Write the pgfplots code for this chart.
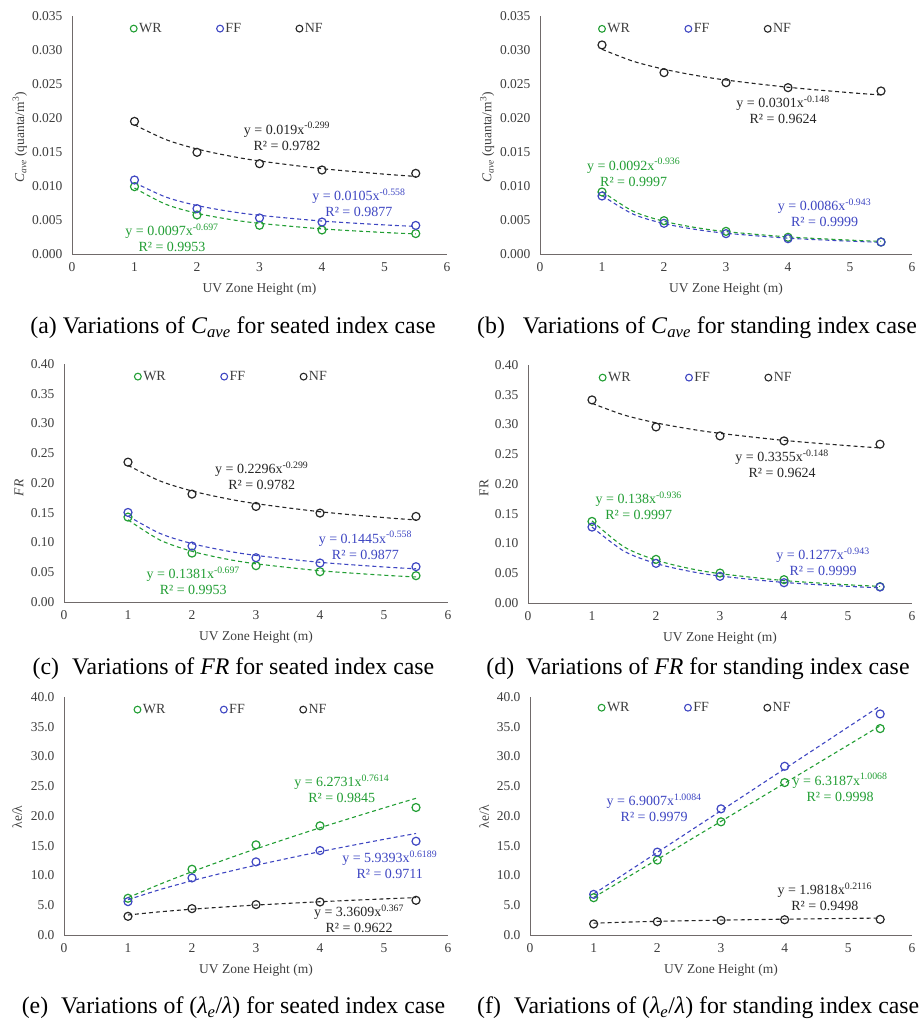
\documentclass[border=0pt]{standalone}
\usepackage{fontspec}
\setmainfont{Liberation Serif}
\usepackage{pgfplots}
\pgfplotsset{compat=1.18}
\definecolor{cwr}{RGB}{34,158,52}
\definecolor{cff}{RGB}{62,70,194}
\definecolor{cnf}{RGB}{38,38,38}
\definecolor{axgray}{RGB}{112,106,106}
\definecolor{txgray}{RGB}{62,62,62}
\newcommand{\tkf}{\fontsize{13.5}{15}\selectfont}
\newcommand{\eqf}{\fontsize{14}{16}\selectfont}
\newcommand{\capf}{\fontsize{23.8}{26}\selectfont}
\pgfplotsset{
  panel/.style={
    scale only axis, height=238pt,
    xmin=0, xmax=6, ymin=0,
    axis x line=bottom, axis y line=left,
    axis line style={-, draw=axgray, line width=0.9pt},
    major tick length=0pt, xtick={0,1,2,3,4,5,6},
    tick label style={font=\tkf, text=txgray},
    xticklabel style={yshift=-5pt}, yticklabel style={xshift=-6pt},
    scaled y ticks=false,
    /pgf/number format/assume math mode=true,
    xlabel={UV Zone Height (m)},
    xlabel style={at={(axis description cs:0.5,-0.15)}, anchor=center, font=\tkf, text=txgray},
    ylabel style={anchor=center, font=\tkf, text=txgray},
    clip=false,
    legend columns=3,
    legend style={draw=none, fill=none, anchor=west, inner sep=0pt, font=\fontsize{14}{16}\selectfont, text=txgray,
      /tikz/every even column/.append style={column sep=53pt}, nodes={inner sep=2pt}},
    legend image code/.code={\draw[#1, mark size=3.4pt, line width=1.1pt] plot coordinates {(0pt,0pt)};},
  },
  pt/.style={only marks, mark=o, mark size=4pt, line width=1.2pt},
  tr/.style={forget plot, smooth, line width=1.1pt, dash pattern=on 4pt off 3pt},
}
\begin{document}
\begin{tikzpicture}[x=1pt,y=1pt]
\useasboundingbox (0,0) rectangle (918,1024);

% (a)
\begin{axis}[panel, width=375pt, at={(72pt,770pt)}, anchor=south west,
  ymax=0.035, ytick={0,0.005,0.010,0.015,0.020,0.025,0.030,0.035},
  yticklabel style={/pgf/number format/.cd, fixed, fixed zerofill, precision=3},
  ylabel={\textit{C}\textsubscript{\textit{ave}} (quanta/m\textsuperscript{3})},
  ylabel style={at={(axis description cs:-0.139,0.49)}},
  legend style={at={(axis description cs:0.155,0.947)}}]
\addplot[cwr, pt] coordinates {(1,0.0099)(2,0.00574)(3,0.00422)(4,0.00353)(5.5,0.0030)};
\addlegendentry{WR}
\addplot[cff, pt] coordinates {(1,0.01088)(2,0.00667)(3,0.0053)(4,0.0047)(5.5,0.0042)};
\addlegendentry{FF}
\addplot[cnf, pt] coordinates {(1,0.0195)(2,0.01495)(3,0.01328)(4,0.01235)(5.5,0.01186)};
\addlegendentry{NF}
\addplot[cwr, tr] coordinates {(1,0.0097)(1.5,0.007312)(2,0.005984)(2.5,0.005122)(3,0.004511)(4,0.003691)(5,0.003159)(5.5,0.002956)};
\addplot[cff, tr] coordinates {(1,0.0105)(1.5,0.008374)(2,0.007132)(2.5,0.006297)(3,0.005688)(4,0.004844)(5,0.004277)(5.5,0.004056)};
\addplot[cnf, tr] coordinates {(1,0.019)(1.5,0.01683)(2,0.01544)(2.5,0.01445)(3,0.01368)(4,0.01255)(5,0.01174)(5.5,0.01141)};
\node[cnf, align=center, font=\eqf] at (axis cs:3.44,0.0173) {y = 0.019x\textsuperscript{-0.299}\\R² = 0.9782};
\node[cff, align=center, font=\eqf] at (axis cs:4.59,0.0075) {y = 0.0105x\textsuperscript{-0.558}\\R² = 0.9877};
\node[cwr, align=center, font=\eqf] at (axis cs:1.6,0.00235) {y = 0.0097x\textsuperscript{-0.697}\\R² = 0.9953};
\end{axis}

% (b)
\begin{axis}[panel, width=372pt, at={(540pt,770pt)}, anchor=south west,
  ymax=0.035, ytick={0,0.005,0.010,0.015,0.020,0.025,0.030,0.035},
  yticklabel style={/pgf/number format/.cd, fixed, fixed zerofill, precision=3},
  ylabel={\textit{C}\textsubscript{\textit{ave}} (quanta/m\textsuperscript{3})},
  ylabel style={at={(axis description cs:-0.142,0.49)}},
  legend style={at={(axis description cs:0.157,0.946)}}]
\addplot[cwr, pt] coordinates {(1,0.00912)(2,0.0049)(3,0.00333)(4,0.00245)(5.5,0.00176)};
\addlegendentry{WR}
\addplot[cff, pt] coordinates {(1,0.00853)(2,0.00451)(3,0.00299)(4,0.00225)(5.5,0.00176)};
\addlegendentry{FF}
\addplot[cnf, pt] coordinates {(1,0.03074)(2,0.02667)(3,0.0252)(4,0.02446)(5.5,0.02397)};
\addlegendentry{NF}
\addplot[cff, tr] coordinates {(1,0.0086)(1.5,0.005867)(2,0.004473)(2.5,0.003624)(3,0.003052)(4,0.002327)(5,0.001885)(5.5,0.001723)};
\addplot[cwr, tr] coordinates {(1,0.0092)(1.5,0.006294)(2,0.004808)(2.5,0.003902)(3,0.00329)(4,0.002513)(5,0.002039)(5.5,0.001865)};
\addplot[cnf, tr] coordinates {(1,0.0301)(1.5,0.02835)(2,0.02717)(2.5,0.02628)(3,0.02558)(4,0.02452)(5,0.02372)(5.5,0.02339)};
\node[cnf, align=center, font=\eqf] at (axis cs:3.92,0.02118) {y = 0.0301x\textsuperscript{-0.148}\\R² = 0.9624};
\node[cwr, align=center, font=\eqf] at (axis cs:1.51,0.0120) {y = 0.0092x\textsuperscript{-0.936}\\R² = 0.9997};
\node[cff, align=center, font=\eqf] at (axis cs:4.59,0.00603) {y = 0.0086x\textsuperscript{-0.943}\\R² = 0.9999};
\end{axis}

% (c)
\begin{axis}[panel, width=384pt, at={(64pt,422pt)}, anchor=south west,
  ymax=0.40, ytick={0,0.05,0.10,0.15,0.20,0.25,0.30,0.35,0.40},
  yticklabel style={/pgf/number format/.cd, fixed, fixed zerofill, precision=2},
  ylabel={\textit{FR}},
  ylabel style={at={(axis description cs:-0.117,0.479)}},
  legend style={at={(axis description cs:0.183,0.947)}}]
\addplot[cwr, pt] coordinates {(1,0.1427)(2,0.0822)(3,0.061)(4,0.0509)(5.5,0.0442)};
\addlegendentry{WR}
\addplot[cff, pt] coordinates {(1,0.1505)(2,0.094)(3,0.0744)(4,0.0655)(5.5,0.0593)};
\addlegendentry{FF}
\addplot[cnf, pt] coordinates {(1,0.235)(2,0.1813)(3,0.1606)(4,0.1494)(5.5,0.1438)};
\addlegendentry{NF}
\addplot[cwr, tr] coordinates {(1,0.1381)(1.5,0.1041)(2,0.08519)(2.5,0.07292)(3,0.06422)(4,0.05255)(5,0.04498)(5.5,0.04209)};
\addplot[cff, tr] coordinates {(1,0.1445)(1.5,0.11524)(2,0.09815)(2.5,0.08666)(3,0.07828)(4,0.06667)(5,0.05886)(5.5,0.05581)};
\addplot[cnf, tr] coordinates {(1,0.2296)(1.5,0.2034)(2,0.1866)(2.5,0.1746)(3,0.1653)(4,0.1517)(5,0.1419)(5.5,0.1379)};
\node[cnf, align=center, font=\eqf] at (axis cs:3.09,0.2126) {y = 0.2296x\textsuperscript{-0.299}\\R² = 0.9782};
\node[cff, align=center, font=\eqf] at (axis cs:4.71,0.0953) {y = 0.1445x\textsuperscript{-0.558}\\R² = 0.9877};
\node[cwr, align=center, font=\eqf] at (axis cs:2.02,0.0353) {y = 0.1381x\textsuperscript{-0.697}\\R² = 0.9953};
\end{axis}

% (d)
\begin{axis}[panel, width=384pt, at={(528pt,421pt)}, anchor=south west,
  ymax=0.40, ytick={0,0.05,0.10,0.15,0.20,0.25,0.30,0.35,0.40},
  yticklabel style={/pgf/number format/.cd, fixed, fixed zerofill, precision=2},
  ylabel={FR},
  ylabel style={at={(axis description cs:-0.115,0.483)}},
  legend style={at={(axis description cs:0.185,0.947)}}]
\addplot[cwr, pt] coordinates {(1,0.1371)(2,0.0733)(3,0.0503)(4,0.0392)(5.5,0.0274)};
\addlegendentry{WR}
\addplot[cff, pt] coordinates {(1,0.1276)(2,0.0666)(3,0.0448)(4,0.0341)(5.5,0.0269)};
\addlegendentry{FF}
\addplot[cnf, pt] coordinates {(1,0.3413)(2,0.2959)(3,0.2808)(4,0.2724)(5.5,0.2669)};
\addlegendentry{NF}
\addplot[cff, tr] coordinates {(1,0.1277)(1.5,0.08712)(2,0.06642)(2.5,0.05382)(3,0.04532)(4,0.03455)(5,0.02799)(5.5,0.02558)};
\addplot[cwr, tr] coordinates {(1,0.138)(1.5,0.09442)(2,0.07213)(2.5,0.05853)(3,0.04935)(4,0.0377)(5,0.03059)(5.5,0.02798)};
\addplot[cnf, tr] coordinates {(1,0.3355)(1.5,0.31596)(2,0.30279)(2.5,0.29295)(3,0.28516)(4,0.27328)(5,0.26439)(5.5,0.26069)};
\node[cnf, align=center, font=\eqf] at (axis cs:3.97,0.2336) {y = 0.3355x\textsuperscript{-0.148}\\R² = 0.9624};
\node[cwr, align=center, font=\eqf] at (axis cs:1.73,0.1627) {y = 0.138x\textsuperscript{-0.936}\\R² = 0.9997};
\node[cff, align=center, font=\eqf] at (axis cs:4.61,0.0686) {y = 0.1277x\textsuperscript{-0.943}\\R² = 0.9999};
\end{axis}

% (e)
\begin{axis}[panel, width=384pt, at={(64pt,89pt)}, anchor=south west,
  ymax=40, ytick={0,5,10,15,20,25,30,35,40},
  yticklabel style={/pgf/number format/.cd, fixed, fixed zerofill, precision=1},
  ylabel={λe/λ},
  ylabel style={at={(axis description cs:-0.122,0.496)}},
  legend style={at={(axis description cs:0.182,0.947)}}]
\addplot[cwr, pt] coordinates {(1,6.17)(2,11.05)(3,15.15)(4,18.35)(5.5,21.43)};
\addlegendentry{WR}
\addplot[cff, pt] coordinates {(1,5.61)(2,9.59)(3,12.29)(4,14.19)(5.5,15.76)};
\addlegendentry{FF}
\addplot[cnf, pt] coordinates {(1,3.14)(2,4.43)(3,5.11)(4,5.55)(5.5,5.83)};
\addlegendentry{NF}
\addplot[cwr, tr] coordinates {(1,6.2731)(1.5,8.542)(2,10.6337)(2.5,12.603)(3,14.4795)(4,18.0253)(5,21.3625)(5.5,22.971)};
\addplot[cff, tr] coordinates {(1,5.9393)(1.5,7.6332)(2,9.1208)(2.5,10.4726)(3,11.7229)(4,14.0069)(5,16.0815)(5.5,17.0586)};
\addplot[cnf, tr] coordinates {(1,3.3609)(1.5,3.9001)(2,4.3344)(2.5,4.7043)(3,5.0298)(4,5.5902)(5,6.0671)(5.5,6.283)};
\node[cwr, align=center, font=\eqf] at (axis cs:4.34,24.5) {y = 6.2731x\textsuperscript{0.7614}\\R² = 0.9845};
\node[cff, align=center, font=\eqf] at (axis cs:5.09,11.85) {y = 5.9393x\textsuperscript{0.6189}\\R² = 0.9711};
\node[cnf, align=center, font=\eqf] at (axis cs:4.61,2.74) {y = 3.3609x\textsuperscript{0.367}\\R² = 0.9622};
\end{axis}

% (f)
\begin{axis}[panel, width=382pt, at={(530pt,89pt)}, anchor=south west,
  ymax=40, ytick={0,5,10,15,20,25,30,35,40},
  yticklabel style={/pgf/number format/.cd, fixed, fixed zerofill, precision=1},
  ylabel={λe/λ},
  ylabel style={at={(axis description cs:-0.12,0.497)}},
  legend style={at={(axis description cs:0.178,0.955)}}]
\addplot[cwr, pt] coordinates {(1,6.27)(2,12.59)(3,19.02)(4,25.62)(5.5,34.69)};
\addlegendentry{WR}
\addplot[cff, pt] coordinates {(1,6.83)(2,13.93)(3,21.2)(4,28.36)(5.5,37.15)};
\addlegendentry{FF}
\addplot[cnf, pt] coordinates {(1,1.85)(2,2.24)(3,2.46)(4,2.57)(5.5,2.63)};
\addlegendentry{NF}
\addplot[cff, tr] coordinates {(1,6.9007)(1.5,10.3864)(2,13.8821)(2.5,17.3851)(3,20.8944)(4,27.9255)(5,34.9701)(5.5,38.5038)};
\addplot[cwr, tr] coordinates {(1,6.3187)(1.5,9.5042)(2,12.6972)(2.5,15.8955)(3,19.0985)(4,25.5135)(5,31.9386)(5.5,35.1604)};
\addplot[cnf, tr] coordinates {(1,1.9818)(1.5,2.1593)(2,2.2949)(2.5,2.4058)(3,2.5004)(4,2.6574)(5,2.7859)(5.5,2.8426)};
\node[cff, align=center, font=\eqf] at (axis cs:1.95,21.43) {y = 6.9007x\textsuperscript{1.0084}\\R² = 0.9979};
\node[cwr, align=center, font=\eqf] at (axis cs:4.87,24.82) {y = 6.3187x\textsuperscript{1.0068}\\R² = 0.9998};
\node[cnf, align=center, font=\eqf] at (axis cs:4.63,6.44) {y = 1.9818x\textsuperscript{0.2116}\\R² = 0.9498};
\end{axis}

% captions
\node[font=\capf] at (233,696) {(a) Variations of \textit{C}\textsubscript{\textit{ave}} for seated index case};
\node[font=\capf, anchor=west, inner sep=0pt] at (477,696) {(b)\hspace{18pt}Variations of \textit{C}\textsubscript{\textit{ave}} for standing index case};
\node[font=\capf] at (233.5,355) {(c)\hspace{13pt}Variations of \textit{FR} for seated index case};
\node[font=\capf] at (698,355) {(d)\hspace{12pt}Variations of \textit{FR} for standing index case};
\node[font=\capf] at (233.5,16) {(e)\hspace{13pt}Variations of (\textit{λ}\textsubscript{\textit{e}}/\textit{λ}) for seated index case};
\node[font=\capf, anchor=west, inner sep=0pt] at (477,16) {(f)\hspace{13pt}Variations of (\textit{λ}\textsubscript{\textit{e}}/\textit{λ}) for standing index case};
\end{tikzpicture}
\end{document}
